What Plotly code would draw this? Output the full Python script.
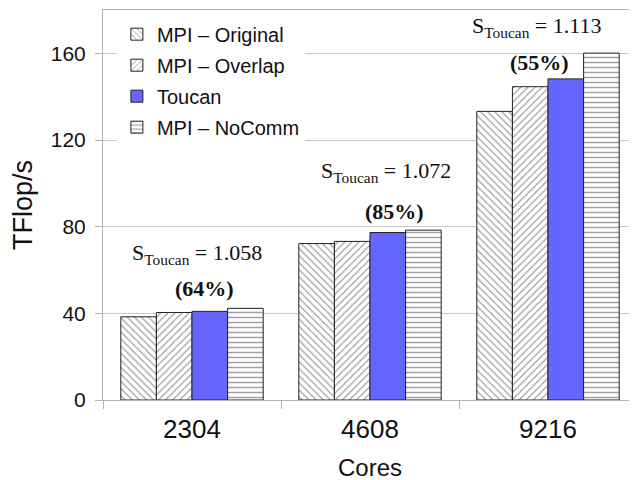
import plotly.graph_objects as go

cores = ["2304", "4608", "9216"]
mpi_original = [38.4, 72.2, 133.2]
mpi_overlap = [40.4, 73.2, 144.6]
toucan = [40.9, 77.3, 148.2]
mpi_nocomm = [42.3, 78.4, 160.1]
speedup = ["1.058", "1.072", "1.113"]
percent = ["64%", "85%", "55%"]
y_ticks = [0, 40, 80, 120, 160]

SANS = "Liberation Sans, Arial, sans-serif"
SERIF = "Liberation Serif, Times New Roman, serif"
GRID = "#c8c8c8"
EDGE = "#222222"

fig = go.Figure()
series = [
    ("MPI – Original", mpi_original, dict(fillmode="overlay", shape="\\", size=5, solidity=0.22, fgcolor="#333333", bgcolor="white")),
    ("MPI – Overlap", mpi_overlap, dict(fillmode="overlay", shape="/", size=5, solidity=0.22, fgcolor="#333333", bgcolor="white")),
    ("Toucan", toucan, None),
    ("MPI – NoComm", mpi_nocomm, dict(fillmode="overlay", shape="-", size=5, solidity=0.3, fgcolor="#444444", bgcolor="white")),
]
for name, vals, pat in series:
    marker = dict(line=dict(color=EDGE, width=1))
    if pat is None:
        marker["color"] = "#6666ff"
    else:
        marker["color"] = "white"
        marker["pattern"] = pat
    fig.add_trace(go.Bar(name=name, x=cores, y=vals, marker=marker, legendgroup=name))

# annotation layout (text positions)
s_pos = [(5, 67.3), (16, 105.1), (-12, 172.0)]
p_pos = [(12, 51.6), (24, 87.1), (-9, 155.8)]
for i in range(len(cores)):
    fig.add_annotation(x=i, y=s_pos[i][1], xshift=s_pos[i][0], xref="x", yref="y",
                       text=f"S<sub>Toucan</sub> = {speedup[i]}", showarrow=False,
                       font=dict(family=SERIF, size=22, color="#111111"))
    fig.add_annotation(x=i, y=p_pos[i][1], xshift=p_pos[i][0], xref="x", yref="y",
                       text=f"<b>({percent[i]})</b>", showarrow=False,
                       font=dict(family=SERIF, size=22, color="#111111"))

# the page body has an 8px margin, so the figure is offset to fill the window
fig.update_layout(
    width=629, height=480,
    margin=dict(l=95, r=0, t=2, b=88),
    paper_bgcolor="white", plot_bgcolor="white",
    barmode="group", bargap=0.2, bargroupgap=0,
    font=dict(family=SANS, color="#111111"),
    legend=dict(x=0.026, y=0.988, xanchor="left", yanchor="top",
                bgcolor="white", font=dict(family=SANS, size=20),
                traceorder="grouped", itemwidth=30, tracegroupgap=2),
    showlegend=True,
)
fig.update_xaxes(
    type="category", range=[-0.5, 2.5], showgrid=False, showline=True, linecolor="#b3b3b3", linewidth=1,
    mirror=True, ticks="outside", tickson="boundaries", ticklen=8, tickcolor="#b3b3b3",
    ticklabelstandoff=6,
    tickfont=dict(family=SANS, size=26, color="#111111"),
    title=dict(text="Cores", font=dict(family=SANS, size=24, color="#111111"), standoff=15),
    automargin=False,
)
fig.update_yaxes(
    range=[0, 180], tickvals=y_ticks, showgrid=True, gridcolor=GRID, gridwidth=1,
    showline=True, linecolor="#b3b3b3", linewidth=1, zeroline=False,
    ticks="outside", ticklen=7, tickcolor="#b3b3b3", ticklabelstandoff=5,
    tickfont=dict(family=SANS, size=21, color="#111111"),
    title=dict(text="TFlop/s", font=dict(family=SANS, size=27, color="#111111"), standoff=12),
    automargin=False,
)

fig.write_html("out.html")
